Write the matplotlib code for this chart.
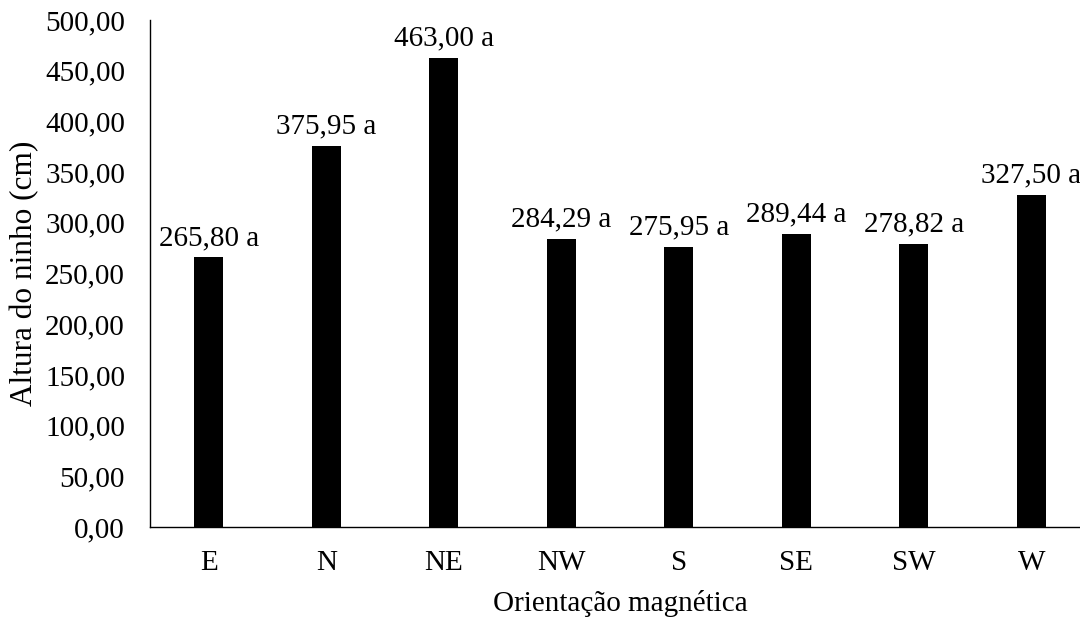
import matplotlib
matplotlib.use("Agg")
import matplotlib.pyplot as plt
from matplotlib.ticker import FuncFormatter

plt.rcParams['font.family'] = ['Liberation Serif', 'DejaVu Serif']

orientacao = ['E', 'N', 'NE', 'NW', 'S', 'SE', 'SW', 'W']
altura = [265.80, 375.95, 463.00, 284.29, 275.95, 289.44, 278.82, 327.50]
letras = ['a', 'a', 'a', 'a', 'a', 'a', 'a', 'a']

FS = 21


def virgula(v, pos=None):
    return f'{v:.2f}'.replace('.', ',')


fig = plt.figure(figsize=(10.8, 6.2), dpi=100)
# the plot area runs a little past the right edge of the figure
ax = fig.add_axes([150 / 1080, 93 / 620, 940 / 1080, 507 / 620])

x = range(len(orientacao))
ax.bar(x, altura, width=0.25, color='black')

for i, v in enumerate(altura):
    ax.annotate(f'{virgula(v)} {letras[i]}', (i, v), xytext=(0, 9),
                textcoords='offset points', ha='center', va='baseline',
                fontsize=FS, annotation_clip=False)

ax.set_xlim(-0.5, len(orientacao) - 0.5)
ax.set_ylim(0, 500)
ax.set_yticks(range(0, 501, 50))
ax.yaxis.set_major_formatter(FuncFormatter(virgula))
ax.set_xticks(list(x))
ax.set_xticklabels(orientacao)
ax.tick_params(axis='both', length=0, labelsize=FS)
ax.tick_params(axis='y', pad=18)
ax.tick_params(axis='x', pad=16.5)

for s in ['top', 'right']:
    ax.spines[s].set_visible(False)
for s in ['left', 'bottom']:
    ax.spines[s].set_color('black')
    ax.spines[s].set_linewidth(1.0)

ax.set_xlabel('Orientação magnética', fontsize=FS, labelpad=10)
ax.set_ylabel('Altura do ninho (cm)', fontsize=22.5, labelpad=4)

fig.savefig('out.png', dpi=100)
